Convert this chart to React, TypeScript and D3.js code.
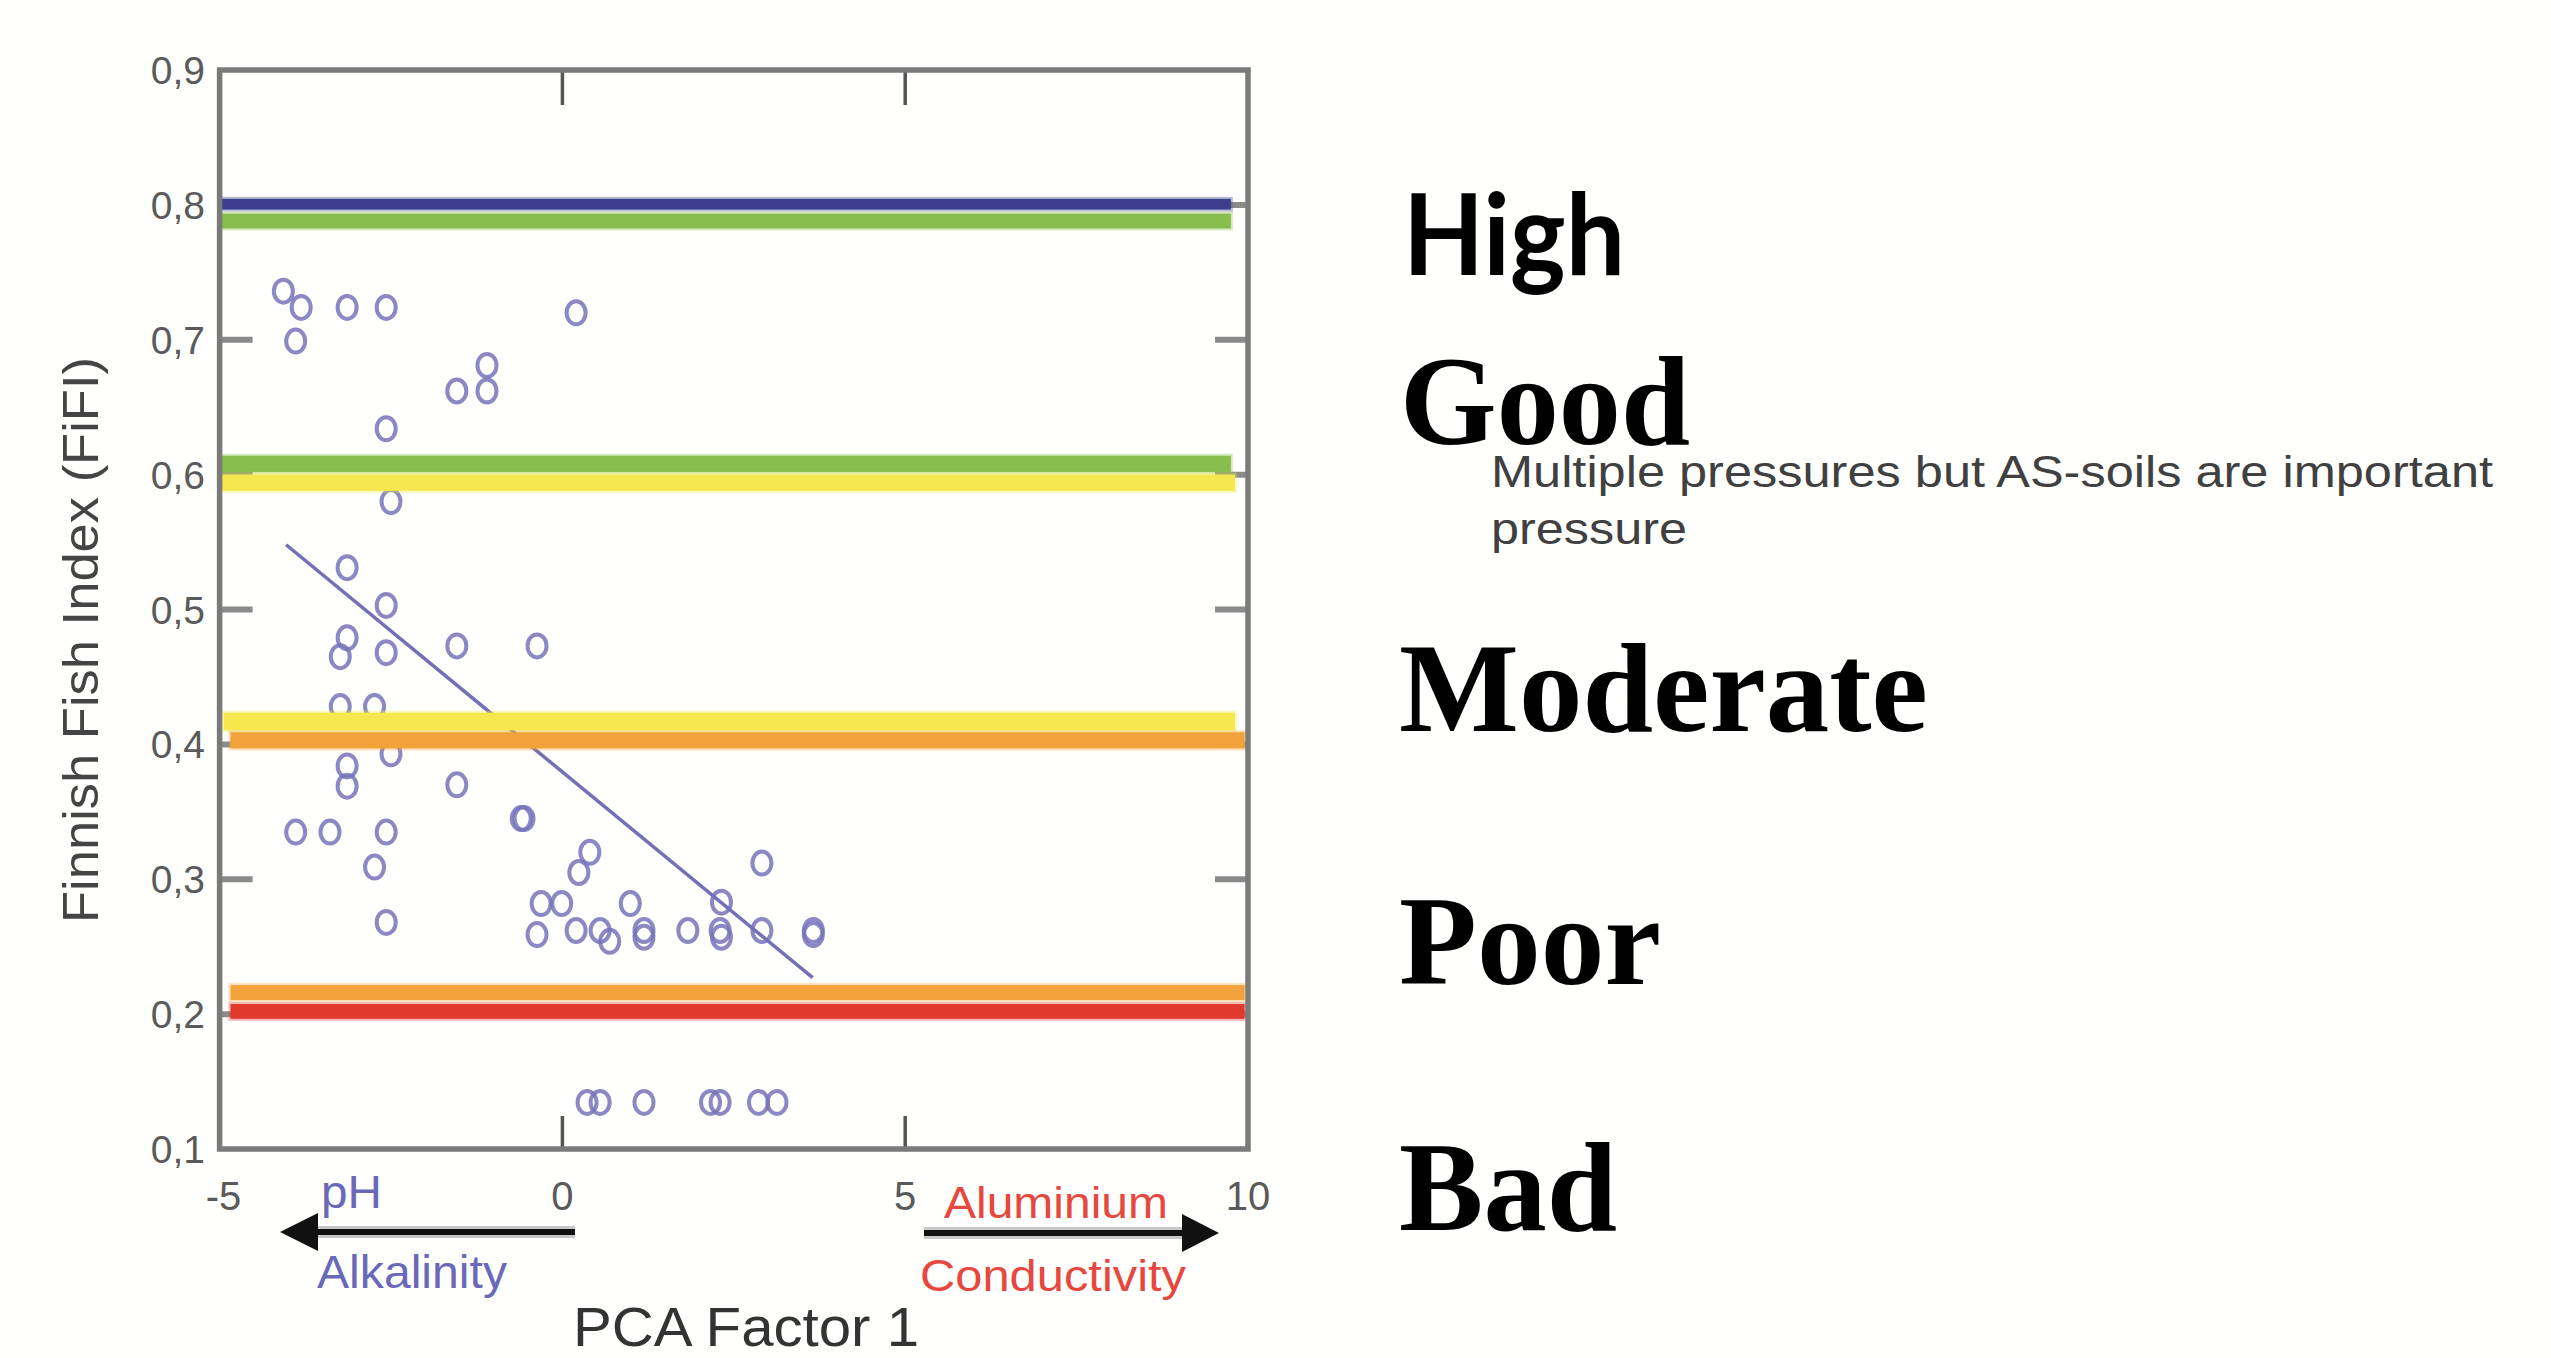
import React from "react";
import * as d3 from "d3";

// ---- data ----
const pcaFactor1 = [
  -4.07, -3.81, -3.14, -2.57, -3.89, 0.2, -1.1, -1.1, -1.54, -2.57, -2.5, -3.14, -2.57,
  -3.14, -3.24, -2.57, -1.54, -0.37, -3.24, -2.74, -2.5, -3.14, -3.14, -1.54, -3.89, -3.39,
  -2.57, -0.6, -0.56, -2.74, -2.57, 0.4, 0.24, -0.31, -0.01, 0.99, 2.32, 2.91, -0.37, 0.2,
  0.55, 0.69, 1.19, 1.19, 1.83, 2.3, 2.32, 2.91, 3.66, 3.66, 0.36, 0.55, 1.19, 2.16, 2.3,
  2.86, 3.13,
];
const fifiValues = [
  0.736, 0.724, 0.724, 0.724, 0.699, 0.72, 0.681, 0.662, 0.662, 0.634, 0.58, 0.531, 0.503,
  0.479, 0.465, 0.468, 0.473, 0.473, 0.428, 0.428, 0.393, 0.384, 0.369, 0.37, 0.335, 0.335,
  0.335, 0.345, 0.345, 0.309, 0.268, 0.32, 0.305, 0.282, 0.282, 0.282, 0.283, 0.312, 0.259,
  0.262, 0.262, 0.254, 0.262, 0.257, 0.262, 0.262, 0.257, 0.262, 0.262, 0.259, 0.1345,
  0.1345, 0.1345, 0.1345, 0.1345, 0.1345, 0.1345,
];
const regressionX = [-4.03, 3.65];
const regressionY = [0.548, 0.227];

const bandLow = [0.7965, 0.7825, 0.602, 0.588, 0.4105, 0.397, 0.2105, 0.1965];
const bandHigh = [0.8045, 0.7935, 0.614, 0.6, 0.4235, 0.409, 0.2215, 0.2075];
const bandStart = [-5, -5, -5, -5, -4.94, -4.84, -4.84, -4.84];
const bandEnd = [9.75, 9.75, 9.75, 9.81, 9.81, 9.95, 9.95, 9.95];
const bandColors = ["#3d3f8e", "#88be4e", "#88be4e", "#f4e84e", "#f4e84e", "#f2a23a", "#f2a23a", "#e03a2f"];

const xTicks = [-5, 0, 5, 10];
const xInnerTicks = [0, 5];
const yTicks = [0.1, 0.2, 0.3, 0.4, 0.5, 0.6, 0.7, 0.8, 0.9];
const yInnerTicks = [0.2, 0.3, 0.4, 0.5, 0.6, 0.7, 0.8];
const statusLabels = ["High", "Good", "Moderate", "Poor", "Bad"];

export default function App() {
  const W = 2551;
  const H = 1358;
  const x = d3.scaleLinear().domain([-5, 10]).range([219.6, 1248]);
  const y = d3.scaleLinear().domain([0.1, 0.9]).range([1149, 70]);
  const fmt = (v: number) => d3.format(".1f")(v).replace(".", ",");

  const line = d3
    .line<number>()
    .x((_, i) => x(regressionX[i]))
    .y((d) => y(d));

  const statusLayout = [
    { x: 1403, y: 275, size: 113, len: 222, family: "Lato, 'Liberation Sans', sans-serif" },
    { x: 1400, y: 444, size: 128, len: 290, family: "'Liberation Serif', 'Times New Roman', serif" },
    { x: 1399, y: 731, size: 128, len: 529, family: "'Liberation Serif', 'Times New Roman', serif" },
    { x: 1399, y: 984, size: 128, len: 262, family: "'Liberation Serif', 'Times New Roman', serif" },
    { x: 1399, y: 1230, size: 128, len: 218, family: "'Liberation Serif', 'Times New Roman', serif" },
  ];

  const sans = "'Liberation Sans', Arial, sans-serif";

  return (
    <svg
      width={W}
      height={H}
      style={{ position: "absolute", left: 0, top: 0, background: "#fffffd" }}
      xmlns="http://www.w3.org/2000/svg"
    >
      <rect x={0} y={0} width={W} height={H} fill="#fffffd" />

      {/* inner ticks */}
      {yInnerTicks.map((t) => (
        <g key={"yt" + t}>
          <line x1={x(-5)} x2={x(-5) + 33} y1={y(t)} y2={y(t)} stroke="#8a8a8a" strokeWidth={6} />
          <line x1={x(10) - 33} x2={x(10)} y1={y(t)} y2={y(t)} stroke="#8a8a8a" strokeWidth={6} />
        </g>
      ))}
      {xInnerTicks.map((t) => (
        <g key={"xt" + t}>
          <line x1={x(t)} x2={x(t)} y1={y(0.9)} y2={y(0.9) + 35} stroke="#555" strokeWidth={3.5} />
          <line x1={x(t)} x2={x(t)} y1={y(0.1)} y2={y(0.1) - 33} stroke="#555" strokeWidth={3.5} />
        </g>
      ))}

      {/* points */}
      {pcaFactor1.map((v, i) => (
        <ellipse
          key={"p" + i}
          cx={x(v)}
          cy={y(fifiValues[i])}
          rx={9.5}
          ry={11.5}
          fill="none"
          stroke="#7773ba"
          strokeWidth={4}
          opacity={0.85}
        />
      ))}

      {/* regression line */}
      <path d={line(regressionY) || ""} fill="none" stroke="#7470b8" strokeWidth={3.5} />

      {/* class boundary bands */}
      {bandLow.map((lo, i) => (
        <rect
          key={"b" + i}
          x={x(bandStart[i])}
          y={y(bandHigh[i])}
          width={x(bandEnd[i]) - x(bandStart[i])}
          height={y(lo) - y(bandHigh[i])}
          fill={bandColors[i]}
          stroke={bandColors[i]}
          strokeOpacity={0.35}
          strokeWidth={4}
        />
      ))}

      {/* frame */}
      <rect
        x={x(-5)}
        y={y(0.9)}
        width={x(10) - x(-5)}
        height={y(0.1) - y(0.9)}
        fill="none"
        stroke="#7a7a7a"
        strokeWidth={5.5}
      />

      {/* y tick labels */}
      {yTicks.map((t) => (
        <text
          key={"yl" + t}
          x={205}
          y={y(t) + 14}
          textAnchor="end"
          fontFamily={sans}
          fontSize={39}
          fill="#5a5a5a"
        >
          {fmt(t)}
        </text>
      ))}
      {/* x tick labels */}
      {xTicks.map((t) => (
        <text
          key={"xl" + t}
          x={x(t) + (t === -5 ? 4 : 0)}
          y={1210}
          textAnchor="middle"
          fontFamily={sans}
          fontSize={40}
          fill="#5a5a5a"
        >
          {t}
        </text>
      ))}

      {/* axis titles */}
      <text
        transform="translate(98,640) rotate(-90)"
        textAnchor="middle"
        fontFamily={sans}
        fontSize={50}
        textLength={566}
        lengthAdjust="spacingAndGlyphs"
        fill="#444"
      >
        Finnish Fish Index (FiFI)
      </text>
      <text x={573} y={1346} fontFamily={sans} fontSize={55} textLength={346} lengthAdjust="spacingAndGlyphs" fill="#333">
        PCA Factor 1
      </text>

      {/* direction annotations */}
      <text x={321} y={1208} fontFamily={sans} fontSize={46} textLength={61} lengthAdjust="spacingAndGlyphs" fill="#6a68b8">
        pH
      </text>
      <text x={317} y={1288} fontFamily={sans} fontSize={46} textLength={190} lengthAdjust="spacingAndGlyphs" fill="#6a68b8">
        Alkalinity
      </text>
      <text x={944} y={1218} fontFamily={sans} fontSize={45} textLength={224} lengthAdjust="spacingAndGlyphs" fill="#e8473f">
        Aluminium
      </text>
      <text x={920} y={1291} fontFamily={sans} fontSize={45} textLength={266} lengthAdjust="spacingAndGlyphs" fill="#e8473f">
        Conductivity
      </text>

      {/* arrows */}
      <line x1={575} x2={305} y1={1232} y2={1232} stroke="#c8c8c8" strokeWidth={12} />
      <line x1={575} x2={305} y1={1232} y2={1232} stroke="#111" strokeWidth={6} />
      <polygon points="280,1232 318,1213 318,1251" fill="#111" />
      <line x1={924} x2={1195} y1={1233} y2={1233} stroke="#c8c8c8" strokeWidth={12} />
      <line x1={924} x2={1195} y1={1233} y2={1233} stroke="#111" strokeWidth={6} />
      <polygon points="1219,1233 1182,1214 1182,1252" fill="#111" />

      {/* status labels */}
      {statusLabels.map((s, i) => (
        <text
          key={s}
          x={statusLayout[i].x}
          y={statusLayout[i].y}
          fontFamily={statusLayout[i].family}
          fontWeight="bold"
          fontSize={statusLayout[i].size}
          textLength={statusLayout[i].len}
          lengthAdjust="spacingAndGlyphs"
          fill="#000"
        >
          {s}
        </text>
      ))}

      <text x={1491} y={487} fontFamily={sans} fontSize={44} textLength={1002} lengthAdjust="spacingAndGlyphs" fill="#404040">
        Multiple pressures but AS-soils are  important
      </text>
      <text x={1491} y={544} fontFamily={sans} fontSize={44} textLength={196} lengthAdjust="spacingAndGlyphs" fill="#404040">
        pressure
      </text>
    </svg>
  );
}
